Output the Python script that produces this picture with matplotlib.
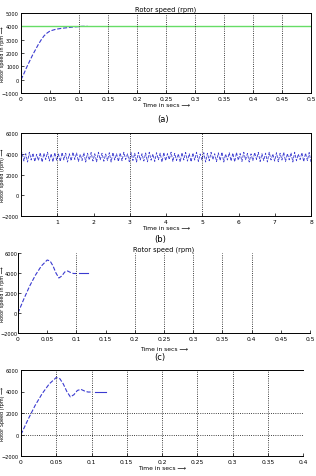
import numpy as np
import matplotlib
matplotlib.use("Agg")
import matplotlib.pyplot as plt

# ---- data ----
# (a) rotor speed step response
t_a = [0.0, 0.005, 0.01, 0.015, 0.02, 0.025, 0.03, 0.035, 0.04, 0.045, 0.05, 0.06, 0.07, 0.08, 0.09, 0.1, 0.105, 0.115]
w_a = [0, 450, 950, 1400, 1850, 2250, 2650, 3000, 3300, 3500, 3650, 3780, 3850, 3900, 3950, 3980, 4000, 4000]
ref_a = 4000

# (b) rotor speed oscillation over 8 s
peaks_b = [4100, 4000, 4150, 4050, 3950, 4100, 4050, 4150, 4000, 4100,
           3980, 4120, 4050, 4000, 4150, 4080, 3950, 4100, 4050, 4120,
           4000, 4150, 4050, 3980, 4100, 4120, 4000, 4080, 4150, 3990,
           4100, 4050, 4130, 4000, 4080, 4150, 3970, 4100, 4060, 4120,
           4010, 4150, 4040, 3990, 4100, 4130, 4000, 4070, 4150, 3980,
           4100, 4050, 4140, 4000, 4090, 4150, 3960, 4100, 4060, 4120,
           4020, 4150, 4030, 3990, 4110, 4130, 4000, 4060, 4150, 3980,
           4100, 4050, 4140, 4010, 4090, 4150, 3970, 4100, 4060, 4120]
troughs_b = [3300, 3200, 3400, 3250, 3350, 3200, 3450, 3300, 3220, 3380,
             3260, 3400, 3200, 3320, 3450, 3250, 3350, 3200, 3400, 3300,
             3220, 3420, 3280, 3350, 3200, 3400, 3260, 3320, 3450, 3230,
             3350, 3200, 3400, 3300, 3220, 3380, 3260, 3420, 3200, 3330,
             3450, 3250, 3350, 3210, 3400, 3290, 3230, 3390, 3260, 3410,
             3200, 3320, 3440, 3250, 3350, 3200, 3400, 3300, 3220, 3380,
             3260, 3420, 3200, 3330, 3450, 3250, 3350, 3210, 3400, 3290,
             3230, 3390, 3260, 3410, 3200, 3320, 3440, 3250, 3350, 3200]

# (c)/(d) rotor speed with overshoot
t_c = [0.0, 0.01, 0.02, 0.03, 0.04, 0.05, 0.055, 0.06, 0.065, 0.07, 0.075, 0.08, 0.085, 0.09, 0.095, 0.1]
w_c = [0, 1400, 2700, 3800, 4700, 5300, 5200, 4700, 4000, 3500, 3700, 4100, 4200, 4050, 3950, 3950]
t_c2 = [0.105, 0.12]
w_c2 = [4000, 4000]

blue = '#3a3ad0'
fs = 4.3
fsy = 3.6
fsl = 3.5

fig = plt.figure(figsize=(3.16, 4.77), dpi=100)
W, H = 316.0, 477.0

def add_ax(l, t, r, b):
    return fig.add_axes([l / W, 1 - b / H, (r - l) / W, (b - t) / H])

def style(ax, l, r, ypad=1.5, lx=3.0):
    ax.tick_params(direction='in', length=2, width=0.5, labelsize=fs, pad=2)
    ax.tick_params(axis='y', labelsize=fsy, pad=ypad)
    for s in ax.spines.values():
        s.set_linewidth(0.7)
    ax.yaxis.set_label_coords((lx - l) / (r - l), 0.5)

# ---- (a) ----
ax = add_ax(21, 14, 311, 94)
ax.plot(t_a, w_a, color=blue, lw=0.8, ls='--')
ax.axhline(ref_a, color='#66dd66', lw=1.0)
ax.set_xlim(0, 0.5)
ax.set_ylim(-1000, 5000)
xt = np.arange(0, 0.51, 0.05)
ax.set_xticks(xt)
ax.set_xticklabels(['0', '0.05', '0.1', '0.15', '0.2', '0.25', '0.3', '0.35', '0.4', '0.45', '0.5'])
ax.set_yticks([-1000, 0, 1000, 2000, 3000, 4000, 5000])
for x in xt[2:-1]:
    ax.axvline(x, color='k', ls=':', lw=0.6)
ax.set_title('Rotor speed (rpm)', fontsize=fs + 0.5, pad=2)
ax.set_xlabel('Time in secs \u27f6', fontsize=fs, labelpad=1)
ax.set_ylabel('Rotor speed in rpm \u27f6', fontsize=fsl, va='center')
style(ax, 21, 311)
fig.text(163 / W, 1 - 120 / H, '(a)', fontsize=6, ha='center', va='center')

# ---- (b) ----
ax = add_ax(21, 134, 311, 217)
vals = []
for p, q in zip(peaks_b, troughs_b):
    vals += [p, q]
t_b = np.linspace(0.03, 8, len(vals))
ax.plot([0, 0.01] + list(t_b), [0, 4000] + vals, color=blue, lw=0.6, ls='--')
ax.set_xlim(0, 8)
ax.set_ylim(-2000, 6000)
ax.set_xticks([1, 2, 3, 4, 5, 6, 7, 8])
ax.set_yticks([-2000, 0, 2000, 4000, 6000])
for x in [1, 3, 5]:
    ax.axvline(x, color='k', ls=':', lw=0.6)
ax.set_xlabel('Time in secs \u27f6', fontsize=fs, labelpad=1)
ax.set_ylabel('Rotor speed (rpm) \u27f6', fontsize=fsl, va='center')
style(ax, 21, 311)
fig.text(160 / W, 1 - 240 / H, '(b)', fontsize=6, ha='center', va='center')

# ---- (c) ----
ax = add_ax(18, 254, 310, 334)
ax.plot(t_c, w_c, color=blue, lw=0.8, ls='--')
ax.plot(t_c2, w_c2, color=blue, lw=0.8)
ax.set_xlim(0, 0.5)
ax.set_ylim(-2000, 6000)
ax.set_xticks(xt)
ax.set_xticklabels(['0', '0.05', '0.1', '0.15', '0.2', '0.25', '0.3', '0.35', '0.4', '0.45', '0.5'])
ax.set_yticks([-2000, 0, 2000, 4000, 6000])
for x in [0.1, 0.2, 0.25, 0.3, 0.35, 0.4]:
    ax.axvline(x, color='k', ls=':', lw=0.6)
ax.spines['top'].set_visible(False)
ax.spines['right'].set_visible(False)
ax.set_title('Rotor speed (rpm)', fontsize=fs + 0.5, pad=2)
ax.set_xlabel('Time in secs \u27f6', fontsize=fs, labelpad=4)
ax.set_ylabel('Rotor speed in rpm \u27f6', fontsize=fsl, va='center')
style(ax, 18, 310, ypad=0.5, lx=2.5)
fig.text(160 / W, 1 - 358 / H, '(c)', fontsize=6, ha='center', va='center')

# ---- (d) ----
ax = add_ax(21, 371, 303, 457)
ax.plot(t_c, w_c, color=blue, lw=0.8, ls='--')
ax.plot(t_c2, w_c2, color=blue, lw=0.8)
ax.set_xlim(0, 0.4)
ax.set_ylim(-2000, 6000)
xd = np.arange(0, 0.41, 0.05)
ax.set_xticks(xd)
ax.set_xticklabels(['0', '0.05', '0.1', '0.15', '0.2', '0.25', '0.3', '0.35', '0.4'])
ax.set_yticks([-2000, 0, 2000, 4000, 6000])
for x in xd[1:]:
    ax.axvline(x, color='k', ls=':', lw=0.6)
for y in [0, 2000]:
    ax.axhline(y, color='k', ls=':', lw=0.6)
ax.spines['right'].set_visible(False)
ax.set_xlabel('Time in secs \u27f6', fontsize=fs, labelpad=1)
ax.set_ylabel('Rotor Speed (rpm) \u27f6', fontsize=fsl, va='center')
style(ax, 21, 303)

fig.savefig('out.png', dpi=100)
